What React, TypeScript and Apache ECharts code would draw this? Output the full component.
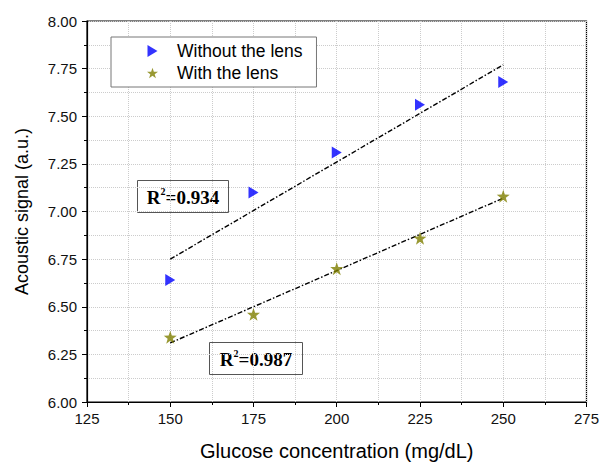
import React, { useEffect, useRef } from "react";
import * as echarts from "echarts";

const concentrations = [150, 175, 200, 225, 250];
const withoutLens = [6.64, 7.1, 7.31, 7.56, 7.68];
const withLens = [6.34, 6.46, 6.7, 6.86, 7.08];
const fitWithoutX = [150, 250];
const fitWithoutY = [6.75, 7.77];
const fitWithX = [150, 250];
const fitWithY = [6.31, 7.07];
const r2Labels = ["0.934", "0.987"];
const seriesNames = ["Without the lens", "With the lens"];

function starPath(): string {
  const pts: string[] = [];
  for (let k = 0; k < 10; k++) {
    const a = (-90 + 36 * k) * (Math.PI / 180);
    const r = k % 2 === 0 ? 10 : 4;
    pts.push(`${(10 + r * Math.cos(a)).toFixed(2)},${(10 + r * Math.sin(a)).toFixed(2)}`);
  }
  return "path://M" + pts.join("L") + "Z";
}

export default function App() {
  const ref = useRef<HTMLDivElement>(null);
  useEffect(() => {
    document.body.style.margin = "0";
    if (!ref.current) return;
    const chart = echarts.init(ref.current, undefined, { renderer: "svg" });
    const font = "Liberation Sans, Arial, sans-serif";
    const serif = "Liberation Serif, Times New Roman, serif";
    const grid = { type: "dotted" as const, color: "#cccccc", width: 1 };
    const tri = "path://M0,0L10,6L0,12Z";
    const star = starPath();
    const r2Box = (x: number, y: number, w: number, val: string) => ({
      type: "group",
      left: x,
      top: y,
      children: [
        { type: "rect", shape: { x: 0, y: 0, width: w, height: 32 }, style: { fill: "#fff", stroke: "#555", lineWidth: 1 } },
        {
          type: "text",
          x: w / 2,
          y: 17,
          style: {
            text: `{r|R}{s|2}{r|=${val}}`,
            align: "center",
            verticalAlign: "middle",
            rich: {
              r: { fontFamily: serif, fontWeight: "bold", fontSize: 19, fill: "#000", lineHeight: 22 },
              s: { fontFamily: serif, fontWeight: "bold", fontSize: 10, fill: "#000", verticalAlign: "top", lineHeight: 22, padding: [0, 0, 9, 0] },
            },
          },
        },
      ],
    });
    chart.setOption({
      animation: false,
      backgroundColor: "#fff",
      grid: { left: 87, right: 14, top: 21, bottom: 57, show: true, borderColor: "#000", borderWidth: 1.2 },
      legend: {
        orient: "vertical",
        left: 111,
        top: 37,
        backgroundColor: "#fff",
        borderColor: "#777",
        borderWidth: 1,
        padding: [5, 14, 5, 36],
        itemGap: 4,
        itemWidth: 11,
        itemHeight: 12,
        textStyle: { fontFamily: font, fontSize: 17.5, color: "#000", padding: [0, 0, 0, 14] },
        data: [
          { name: seriesNames[0], icon: tri },
          { name: seriesNames[1], icon: star },
        ],
      },
      xAxis: {
        type: "value",
        min: 125,
        max: 275,
        interval: 25,
        name: "Glucose concentration (mg/dL)",
        nameLocation: "middle",
        nameGap: 39,
        nameTextStyle: { fontFamily: font, fontSize: 20, color: "#000" },
        axisLine: { lineStyle: { color: "#000", width: 1.2 } },
        axisTick: { show: true, inside: false, length: 5, lineStyle: { color: "#000" } },
        minorTick: { show: true, splitNumber: 2, length: 3, lineStyle: { color: "#000" } },
        axisLabel: { fontFamily: font, fontSize: 15, color: "#111", margin: 9 },
        splitLine: { show: true, lineStyle: grid },
        minorSplitLine: { show: true, lineStyle: grid },
      },
      yAxis: {
        type: "value",
        min: 6,
        max: 8,
        interval: 0.25,
        name: "Acoustic signal (a.u.)",
        nameLocation: "middle",
        nameGap: 56,
        nameTextStyle: { fontFamily: font, fontSize: 18, color: "#000" },
        axisLine: { show: true, lineStyle: { color: "#000", width: 1.2 } },
        axisTick: { show: true, inside: false, length: 5, lineStyle: { color: "#000" } },
        minorTick: { show: true, splitNumber: 2, length: 3, lineStyle: { color: "#000" } },
        axisLabel: { fontFamily: font, fontSize: 15, color: "#111", margin: 10, formatter: (v: number) => v.toFixed(2) },
        splitLine: { show: true, lineStyle: grid },
        minorSplitLine: { show: true, lineStyle: grid },
      },
      series: [
        {
          name: "fit1",
          type: "line",
          data: fitWithoutX.map((x, i) => [x, fitWithoutY[i]]),
          symbol: "none",
          lineStyle: { color: "#000", width: 1.4, type: [5, 2, 1.5, 2] },
          z: 2,
        },
        {
          name: "fit2",
          type: "line",
          data: fitWithX.map((x, i) => [x, fitWithY[i]]),
          symbol: "none",
          lineStyle: { color: "#000", width: 1.4, type: [5, 2, 1.5, 2] },
          z: 2,
        },
        {
          name: seriesNames[0],
          type: "scatter",
          data: concentrations.map((x, i) => [x, withoutLens[i]]),
          symbol: tri,
          symbolSize: [10, 12],
          itemStyle: { color: "#0000ff" },
          z: 3,
        },
        {
          name: seriesNames[1],
          type: "scatter",
          data: concentrations.map((x, i) => [x, withLens[i]]),
          symbol: star,
          symbolSize: 13,
          itemStyle: { color: "#808000" },
          z: 3,
        },
      ],
      graphic: [r2Box(137, 180, 91, r2Labels[0]), r2Box(209, 342, 93, r2Labels[1])],
    });
    return () => chart.dispose();
  }, []);
  return <div ref={ref} style={{ width: 602, height: 466 }} />;
}
